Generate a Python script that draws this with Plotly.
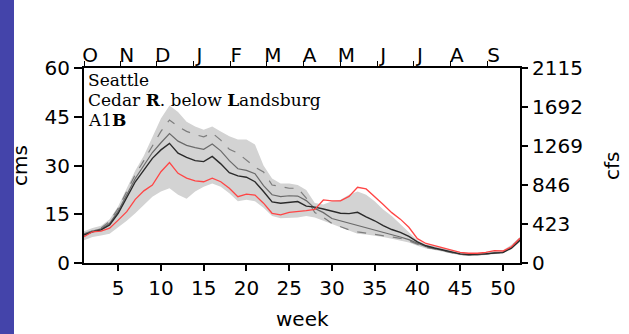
import plotly.graph_objects as go

# Weekly streamflow, Cedar River below Landsburg (cms), water-year weeks
weeks = list(range(1, 53))

historical = [8.1, 9.6, 9.8, 10.7, 13.2, 15.8, 19.6, 22.2, 24.0, 28.1, 30.9, 27.6, 26.1,
              25.3, 25.0, 26.1, 25.0, 23.0, 20.4, 21.2, 20.9, 18.4, 15.3, 14.8, 15.6, 15.8,
              16.1, 16.5, 19.4, 19.1, 19.1, 20.5, 23.3, 22.8, 20.5, 18.0, 15.5, 13.5, 11.0,
              7.5, 6.0, 5.3, 4.6, 4.0, 3.3, 3.0, 3.0, 3.3, 3.8, 3.7, 5.0, 7.6]

period_2020s = [8.6, 9.6, 10.2, 11.7, 15.3, 20.4, 25.0, 28.6, 32.2, 34.8, 36.8, 33.8, 32.5,
                31.5, 31.2, 32.8, 30.5, 27.8, 26.8, 26.4, 25.0, 22.0, 18.8, 18.4, 18.7, 18.9,
                17.5, 17.2, 16.6, 16.0, 15.3, 15.2, 15.6, 14.2, 13.0, 11.5, 10.3, 9.4, 8.2,
                6.5, 5.3, 4.6, 4.0, 3.4, 2.8, 2.6, 2.6, 2.8, 3.1, 3.2, 4.6, 7.0]

period_2040s = [8.8, 9.8, 10.5, 12.2, 16.0, 21.2, 26.0, 30.0, 34.0, 37.0, 39.8, 37.5, 36.2,
                35.5, 35.0, 36.6, 34.5, 31.5, 29.0, 28.5, 27.5, 23.8, 21.0, 20.4, 20.7, 20.6,
                19.2, 16.8, 15.5, 13.7, 13.0, 12.2, 11.5, 11.0, 10.3, 9.5, 8.7, 8.0, 7.2,
                6.0, 5.0, 4.4, 3.9, 3.3, 2.7, 2.5, 2.5, 2.8, 3.1, 3.3, 4.8, 7.3]

period_2080s = [9.0, 10.0, 10.8, 12.8, 16.8, 22.0, 27.2, 31.5, 36.0, 40.5, 44.0, 42.0, 40.5,
                39.5, 38.8, 40.0, 37.8, 35.0, 33.8, 31.5, 29.5, 28.0, 24.0, 23.5, 23.0, 23.0,
                20.0, 15.5, 14.0, 12.2, 11.2, 10.2, 9.6, 9.2, 9.0, 8.6, 8.2, 7.6, 6.8,
                5.8, 4.8, 4.3, 3.8, 3.2, 2.6, 2.5, 2.5, 2.8, 3.1, 3.3, 5.0, 7.6]

range_low = [7.0, 8.0, 8.5, 9.0, 11.0, 13.0, 15.3, 18.0, 20.4, 22.0, 23.0, 21.0, 19.8,
             22.0, 23.5, 24.5, 23.5, 21.5, 19.0, 19.5, 19.0, 17.0, 14.5, 13.8, 13.8, 14.0,
             14.5, 14.0, 13.0, 12.0, 11.0, 10.0, 9.0, 8.8, 8.5, 8.0, 7.5, 7.0, 6.3,
             5.3, 4.5, 4.0, 3.5, 3.0, 2.4, 2.2, 2.2, 2.5, 2.8, 3.0, 4.2, 6.5]

range_high = [9.8, 10.8, 11.5, 13.5, 17.5, 23.0, 28.5, 33.0, 39.0, 44.5, 48.5, 46.5, 43.5,
              42.0, 41.0, 42.0, 40.5, 39.0, 38.0, 38.0, 36.5, 30.0, 26.0, 24.5, 24.5, 24.0,
              22.5, 18.5, 18.0, 19.0, 19.5, 21.0, 22.0, 21.0, 19.0, 16.5, 14.5, 12.0, 9.5,
              7.0, 5.8, 5.2, 4.6, 4.0, 3.4, 3.1, 3.1, 3.4, 3.8, 3.9, 5.6, 8.0]

cms_ticks = [0, 15, 30, 45, 60]
cfs_ticks = [0, 423, 846, 1269, 1692, 2115]
week_ticks = [5, 10, 15, 20, 25, 30, 35, 40, 45, 50]
month_labels = ["O", "N", "D", "J", "F", "M", "A", "M", "J", "J", "A", "S"]
month_starts = [1, 5.3, 9.5, 13.8, 18.1, 22.4, 26.7, 31.0, 35.3, 39.6, 43.9, 48.2]

W, H = 629, 334
ML, MR, MT, MB = 84, 109, 68, 71
PW, PH = W - ML - MR, H - MT - MB

sans = "DejaVu Sans"
serif = "DejaVu Serif"

fig = go.Figure()

# range envelope of the scenarios
fig.add_trace(go.Scatter(x=weeks, y=range_low, mode="lines", line=dict(width=0),
                         showlegend=False, hoverinfo="skip"))
fig.add_trace(go.Scatter(x=weeks, y=range_high, mode="lines", line=dict(width=0),
                         fill="tonexty", fillcolor="#d3d3d3", showlegend=False,
                         hoverinfo="skip"))

fig.add_trace(go.Scatter(x=weeks, y=period_2080s, mode="lines",
                         line=dict(color="#7d7d7d", width=1.2, dash="dash"),
                         showlegend=False))
fig.add_trace(go.Scatter(x=weeks, y=period_2040s, mode="lines",
                         line=dict(color="#6a6a6a", width=1.2), showlegend=False))
fig.add_trace(go.Scatter(x=weeks, y=period_2020s, mode="lines",
                         line=dict(color="#2a2a2a", width=1.4), showlegend=False))
fig.add_trace(go.Scatter(x=weeks, y=historical, mode="lines",
                         line=dict(color="#ff4545", width=1.3), showlegend=False))

# carrier for the secondary (top / right) axes
fig.add_trace(go.Scatter(x=[1, 52], y=[0, 2115], xaxis="x2", yaxis="y2", mode="markers",
                         marker=dict(opacity=0), showlegend=False, hoverinfo="skip"))

axis_font = dict(family=sans, size=20, color="black")

fig.update_layout(
    width=W, height=H,
    margin=dict(l=ML, r=MR, t=MT, b=MB),
    paper_bgcolor="white", plot_bgcolor="white",
    xaxis=dict(range=[1, 52], tickvals=week_ticks, ticks="outside", ticklen=6,
               tickwidth=1.5, tickcolor="black", showline=True, linecolor="black",
               linewidth=2, showgrid=False, zeroline=False, tickfont=axis_font),
    xaxis2=dict(range=[1, 52], overlaying="x", side="top", anchor="y",
                tickvals=month_starts, ticktext=month_labels, ticks="outside",
                ticklen=5, tickwidth=1, tickcolor="black", ticklabelshift=6,
                ticklabelstandoff=-9,
                showline=True, linecolor="black", linewidth=2, showgrid=False,
                zeroline=False, tickfont=dict(family=sans, size=20, color="black")),
    yaxis=dict(range=[0, 60], tickvals=cms_ticks, ticks="outside", ticklen=8,
               tickwidth=1.5, tickcolor="black", showline=True, linecolor="black",
               linewidth=2, showgrid=False, zeroline=False, tickfont=axis_font),
    yaxis2=dict(range=[0, 2115], overlaying="y", side="right", anchor="x",
                tickvals=cfs_ticks, ticks="outside", ticklen=6, tickwidth=1.5,
                tickcolor="black", showline=True, linecolor="black", linewidth=2,
                showgrid=False, zeroline=False, tickfont=axis_font),
)


def px_x(p):
    return (p - ML) / PW


def px_y(p):
    return (H - MB - p) / PH


# axis titles
fig.add_annotation(text="cms", x=px_x(20), y=px_y(166), xref="paper", yref="paper",
                   textangle=-90, showarrow=False, xanchor="center", yanchor="middle",
                   font=dict(family=sans, size=20, color="black"))
fig.add_annotation(text="cfs", x=px_x(612), y=px_y(166), xref="paper", yref="paper",
                   textangle=-90, showarrow=False, xanchor="center", yanchor="middle",
                   font=dict(family=sans, size=20, color="black"))
fig.add_annotation(text="week", x=px_x(302), y=px_y(319), xref="paper", yref="paper",
                   showarrow=False, xanchor="center", yanchor="middle",
                   font=dict(family=sans, size=20, color="black"))

# station caption
caption = ["Seattle", "Cedar <b>R</b>. below <b>L</b>andsburg", "A1<b>B</b>"]
for i, line in enumerate(caption):
    fig.add_annotation(text=line, x=px_x(86), y=px_y(80 + i * 20), xref="paper",
                       yref="paper", showarrow=False, xanchor="left", yanchor="middle",
                       font=dict(family=serif, size=17, color="black"))

# blue strip along the left edge
fig.add_shape(type="rect", xref="paper", yref="paper", x0=px_x(0), x1=px_x(14),
              y0=px_y(H), y1=px_y(0), fillcolor="#4444aa", line=dict(width=0),
              layer="below")

fig.write_html("out.html")
